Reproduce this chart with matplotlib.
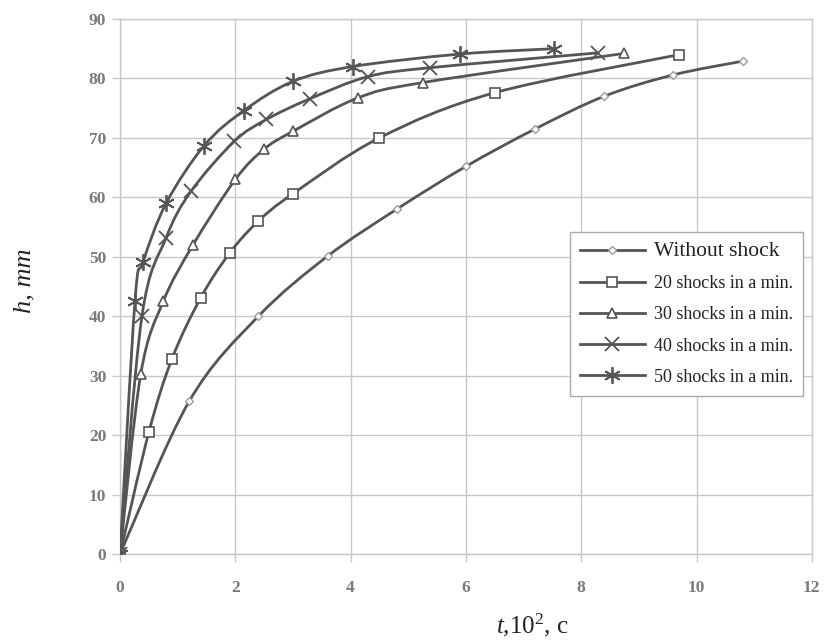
import numpy as np
import matplotlib
matplotlib.use("Agg")
import matplotlib.pyplot as plt
from matplotlib.path import Path
from matplotlib.patches import PathPatch
from matplotlib.lines import Line2D

plt.rcParams['font.family'] = ['Liberation Serif', 'DejaVu Serif']
plt.rcParams['mathtext.fontset'] = 'custom'
plt.rcParams['mathtext.rm'] = 'Liberation Serif'
plt.rcParams['mathtext.it'] = 'Liberation Serif:italic'

# t, 10^2 c  /  h, mm
t_none = [0, 1.2, 2.4, 3.6, 4.8, 6.0, 7.2, 8.4, 9.6, 10.8]
h_none = [0, 25.7, 40.0, 50.1, 58.0, 65.2, 71.5, 77.0, 80.6, 82.9]

t_20 = [0, 0.5, 0.9, 1.4, 1.9, 2.4, 3.0, 4.5, 6.5, 9.7]
h_20 = [0, 20.5, 32.8, 43.1, 50.6, 56.0, 60.6, 70.0, 77.6, 84.0]

t_30 = [0, 0.36, 0.75, 1.26, 2.0, 2.5, 3.0, 4.12, 5.25, 8.74]
h_30 = [0, 30.3, 42.5, 51.9, 63.0, 68.1, 71.1, 76.7, 79.3, 84.2]

t_40 = [0, 0.38, 0.8, 1.23, 1.98, 2.54, 3.3, 4.3, 5.38, 8.29]
h_40 = [0, 40.0, 53.2, 61.0, 69.4, 73.1, 76.6, 80.3, 81.8, 84.3]

t_50 = [0, 0.26, 0.4, 0.8, 1.46, 2.15, 3.0, 4.04, 5.9, 7.53]
h_50 = [0, 42.6, 49.1, 59.0, 68.7, 74.6, 79.5, 82.0, 84.1, 85.0]

labels = ['Without shock', '20 shocks in a min.', '30 shocks in a min.',
          '40 shocks in a min.', '50 shocks in a min.']

line_col = '#555555'
grid_col = '#c8c8c8'
tick_col = '#7a7a7a'


def smooth_path(x, y):
    # excel-style smoothed line: bezier segments through the points
    p = np.column_stack([x, y]).astype(float)
    n = len(p)
    verts = [p[0]]
    codes = [Path.MOVETO]
    for i in range(n - 1):
        p0 = p[i - 1] if i > 0 else p[i]
        p3 = p[i + 2] if i + 2 < n else p[i + 1]
        c1 = p[i] + (p[i + 1] - p0) / 6.0
        c2 = p[i + 1] - (p3 - p[i]) / 6.0
        verts += [c1, c2, p[i + 1]]
        codes += [Path.CURVE4] * 3
    return Path(verts, codes)


fig = plt.figure(figsize=(8.25, 6.43), dpi=100)
ax = fig.add_axes([0.1455, 0.1384, 0.8385, 0.8321])

series = [
    (t_none, h_none, dict(marker='D', markersize=4.5, markerfacecolor='white',
                          markeredgecolor='#9a9aaa', markeredgewidth=1.0)),
    (t_20, h_20, dict(marker='s', markersize=6.5, markerfacecolor='white',
                      markeredgecolor='#555555', markeredgewidth=1.2)),
    (t_30, h_30, dict(marker='^', markersize=7, markerfacecolor='white',
                      markeredgecolor='#555555', markeredgewidth=1.2)),
    (t_40, h_40, dict(marker='x', markersize=10, markeredgecolor='#555555',
                      markeredgewidth=1.3)),
    (t_50, h_50, dict(marker=(6, 2, 0), markersize=12, markeredgecolor='#555555',
                      markeredgewidth=1.3)),
]

handles = []
for (x, y, mk), lab in zip(series, labels):
    patch = PathPatch(smooth_path(x, y), fill=False, edgecolor=line_col, lw=2.0, zorder=3)
    ax.add_patch(patch)
    ax.plot(x, y, linestyle='none', zorder=4, **mk)
    handles.append(Line2D([], [], color=line_col, lw=2.0, **mk))

ax.set_xlim(0, 12)
ax.set_ylim(0, 90)
ax.set_xticks(np.arange(0, 13, 2))
ax.set_yticks(np.arange(0, 91, 10))
ax.grid(True, color=grid_col, lw=1.0)
ax.set_axisbelow(True)
for s in ax.spines.values():
    s.set_color(grid_col)
    s.set_linewidth(1.0)
ax.tick_params(length=6, width=1.0, color=grid_col, labelsize=12.5, labelcolor=tick_col)
ax.tick_params(axis='x', pad=13)
ax.tick_params(axis='y', pad=4)
for lbl in ax.get_xticklabels() + ax.get_yticklabels():
    lbl.set_fontweight('bold')

leg = ax.legend(handles, labels, loc='upper left', bbox_to_anchor=(0.637, 0.618),
                frameon=True, fancybox=False, edgecolor='#aaaaaa', framealpha=1,
                fontsize=13, handlelength=3.6, handletextpad=0.5,
                labelspacing=0.78, borderpad=0.55, markerfirst=True)
leg.get_frame().set_linewidth(1.0)
leg.get_texts()[0].set_fontsize(15.5)
for t in leg.get_texts():
    t.set_color('#222222')

fig.text(0.030, 0.563, 'h, mm', rotation=90, fontsize=19, style='italic',
         ha='center', va='center', color='#222222')
fig.text(0.645, 0.028, r'$t$,10$^2$, c', fontsize=18, ha='center', va='center',
         color='#222222')

fig.savefig('out.png', dpi=100)
